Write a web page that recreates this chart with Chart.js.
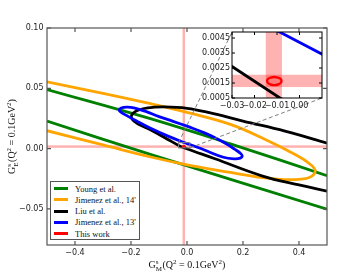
<!DOCTYPE html>
<html>
<head>
<meta charset="utf-8">
<script src="https://cdn.jsdelivr.net/npm/chart.js@4.4.1/dist/chart.umd.min.js"></script>
<style>
  html, body { margin: 0; padding: 0; background: #fff; }
  #wrap { position: relative; width: 364px; height: 274px; overflow: hidden; }
  #main { position: absolute; left: 0; top: 0; }
  #inset { position: absolute; left: 188px; top: 20px; }
  #legend { position: absolute; left: 50px; top: 181px; width: 90px; height: 59px; box-sizing: border-box;
            border: 1px solid #555; background: #fff; font: 8.5px "Liberation Serif", serif; color: #111; }
  .lg-row { position: absolute; left: 0; height: 10px; line-height: 10px; white-space: nowrap; }
  .lg-line { position: absolute; left: 3px; top: 3.5px; width: 14px; height: 3px; }
  .lg-txt { position: absolute; left: 24px; top: 0; }
</style>
</head>
<body>
<div id="wrap">
  <canvas id="main" width="364" height="274"></canvas>
  <canvas id="inset" width="142" height="95"></canvas>
  <div id="legend"></div>
</div>
<script>
// axes
const xTickVals = [-0.4, -0.2, 0, 0.2, 0.4];
const xTickLabels = ['\u22120.4', '\u22120.2', '0.0', '0.2', '0.4'];
const yTickVals = [-0.05, 0, 0.05, 0.1];
const yTickLabels = ['\u22120.05', '0.00', '0.05', '0.10'];
const insetXRange = [-0.03, 0.01];
const insetYRange = [0.0005, 0.0049];
const insetXTickVals = [-0.03, -0.02, -0.01, 0];
const insetXTickLabels = ['\u22120.03', '\u22120.02', '\u22120.01', '0.00'];
const insetYTickVals = [0.0005, 0.0015, 0.0025, 0.0035, 0.0045];
const insetYTickLabels = ['0.0005', '0.0015', '0.0025', '0.0035', '0.0045'];

// legend
const seriesNames = ['Young et al.', "Jimenez et al., 14'", 'Liu et al.', "Jimenez et al., 13'", 'This work'];
const seriesColors = ['#008000', '#ffa500', '#000000', '#0000ff', '#ff0000'];

// Young et al. band (two edges)
const youngUpperX = [-0.5, -0.131, 0.155, 0.5];
const youngUpperY = [0.049, 0.0248, 0.0039, -0.0225];
const youngLowerX = [-0.5, -0.131, 0.5];
const youngLowerY = [0.0228, -0.0048, -0.0503];

// Jimenez et al. 14' contour (left part outside the axes)
const jim14X = [-0.5, -0.3, -0.13, 0.0, 0.155, 0.274, 0.393, 0.44, 0.458, 0.44, 0.40, 0.333, 0.27, 0.155, 0.0, -0.13, -0.3, -0.5];
const jim14Y = [0.0554, 0.0458, 0.0372, 0.0300, 0.0200, 0.0081, -0.0058, -0.0130, -0.0185, -0.0237, -0.0255, -0.0256, -0.0242, -0.0198, -0.0135, -0.0070, 0.0030, 0.0148];

// Liu et al. contour (right part outside the axes)
const liuX = [0.5, 0.35, 0.2, 0.08, 0.0, -0.08, -0.14, -0.175, -0.193, -0.199, -0.194, -0.18, -0.16, -0.131, -0.07, -0.03, -0.0087, 0.1, 0.27, 0.4, 0.5];
const liuY = [0.0045, 0.0145, 0.0228, 0.0298, 0.0334, 0.0345, 0.0338, 0.0318, 0.0293, 0.0265, 0.0238, 0.0212, 0.0187, 0.0156, 0.0078, 0.0026, 0.0005, -0.0085, -0.0228, -0.0302, -0.0353];

// Jimenez et al. 13' contour
const jim13X = [0.0, 0.06, 0.1, 0.14, 0.17, 0.19, 0.1975, 0.19, 0.17, 0.13, 0.06, 0.0103, -0.0101, -0.07, -0.13, -0.18, -0.215, -0.236, -0.242, -0.235, -0.215, -0.19, -0.15, -0.1, -0.05, 0.0];
const jim13Y = [0.0186, 0.0132, 0.0090, 0.0040, -0.0005, -0.0038, -0.0062, -0.0079, -0.0085, -0.0072, -0.0010, 0.0034, 0.0050, 0.0105, 0.0168, 0.0228, 0.0273, 0.0302, 0.0320, 0.0336, 0.0343, 0.0338, 0.0310, 0.0265, 0.0226, 0.0186];

// This work contour and its bands
const thisX = [-0.0112, -0.0096, -0.0084, -0.0080, -0.0084, -0.0096, -0.0112, -0.0128, -0.0140, -0.0144, -0.0140, -0.0128, -0.0112, -0.0096];
const thisY = [0.00190, 0.00186, 0.00177, 0.00163, 0.00150, 0.00140, 0.00136, 0.00140, 0.00150, 0.00163, 0.00177, 0.00186, 0.00190, 0.00186];
const bandX = [-0.015, -0.0078];
const bandY = [0.00123, 0.00205];

const series = [
  { xs: youngUpperX, ys: youngUpperY, c: 0 },
  { xs: youngLowerX, ys: youngLowerY, c: 0 },
  { xs: jim14X, ys: jim14Y, c: 1 },
  { xs: liuX, ys: liuY, c: 2 },
  { xs: jim13X, ys: jim13Y, c: 3 },
  { xs: thisX, ys: thisY, c: 4, smooth: true }
];

function buildDatasets(lw, inset) {
  return series.map((s, i) => ({
    data: s.xs.map((x, k) => ({ x: x, y: s.ys[k] })),
    borderColor: seriesColors[s.c],
    borderWidth: s.c === 4 ? lw * 0.85 : lw,
    pointRadius: 0,
    fill: false,
    tension: inset ? (s.smooth ? 0.4 : 0) : 0.4,
    clip: 0,
    order: series.length - i
  }));
}

const bandPlugin = {
  id: 'bands',
  beforeDatasetsDraw(chart, args, opts) {
    const { ctx, chartArea: a, scales: { x, y } } = chart;
    ctx.save();
    if (opts.bg) { ctx.fillStyle = '#fff'; ctx.fillRect(a.left, a.top, a.right - a.left, a.bottom - a.top); }
    ctx.beginPath();
    ctx.rect(a.left, a.top, a.right - a.left, a.bottom - a.top);
    ctx.clip();
    ctx.fillStyle = 'rgba(255,0,0,0.3)';
    let x0 = x.getPixelForValue(bandX[0]), x1 = x.getPixelForValue(bandX[1]);
    let w = Math.max(x1 - x0, opts.minW || 0);
    ctx.fillRect((x0 + x1) / 2 - w / 2, a.top, w, a.bottom - a.top);
    let y0 = y.getPixelForValue(bandY[0]), y1 = y.getPixelForValue(bandY[1]);
    let h = Math.max(y0 - y1, opts.minW || 0);
    ctx.fillRect(a.left, (y0 + y1) / 2 - h / 2, a.right - a.left, h);
    ctx.restore();
  }
};

const framePlugin = {
  id: 'frame',
  afterDatasetsDraw(chart, args, opts) {
    const { ctx, chartArea: a, scales: { x, y } } = chart;
    ctx.save();
    ctx.strokeStyle = opts.color;
    ctx.lineWidth = opts.width;
    ctx.strokeRect(a.left, a.top, a.right - a.left, a.bottom - a.top);
    ctx.beginPath();
    x.ticks.forEach(t => {
      const px = x.getPixelForValue(t.value);
      ctx.moveTo(px, a.bottom); ctx.lineTo(px, a.bottom - opts.len);
      ctx.moveTo(px, a.top); ctx.lineTo(px, a.top + opts.len);
    });
    y.ticks.forEach(t => {
      const py = y.getPixelForValue(t.value);
      ctx.moveTo(a.left, py); ctx.lineTo(a.left + opts.len, py);
      ctx.moveTo(a.right, py); ctx.lineTo(a.right - opts.len, py);
    });
    ctx.stroke();
    ctx.restore();
  }
};

function drawMathTitle(ctx, cx, cy, sub) {
  const big = '10px "Liberation Serif"', small = '7px "Liberation Serif"';
  const seq = [
    { t: 'G', f: big, dy: 0 },
    { t: 's', f: small, dy: -4, sub: sub },
    { t: '(Q', f: big, dy: 0 },
    { t: '2', f: small, dy: -4 },
    { t: ' = 0.1GeV', f: big, dy: 0 },
    { t: '2', f: small, dy: -4 },
    { t: ')', f: big, dy: 0 }
  ];
  let total = 0;
  seq.forEach(p => {
    ctx.font = p.f;
    p.w = ctx.measureText(p.t).width;
    if (p.sub) p.w = Math.max(p.w, ctx.measureText(p.sub).width) + 0.5;
    total += p.w;
  });
  let px = cx - total / 2;
  ctx.fillStyle = '#111';
  ctx.textBaseline = 'alphabetic';
  ctx.textAlign = 'left';
  seq.forEach(p => {
    ctx.font = p.f;
    ctx.fillText(p.t, px, cy + p.dy);
    if (p.sub) ctx.fillText(p.sub, px, cy + 2.5);
    px += p.w;
  });
}

const titlePlugin = {
  id: 'titles',
  afterDraw(chart) {
    const { ctx, chartArea: a } = chart;
    ctx.save();
    drawMathTitle(ctx, (a.left + a.right) / 2, 268, 'M');
    ctx.translate(15, (a.top + a.bottom) / 2);
    ctx.rotate(-Math.PI / 2);
    drawMathTitle(ctx, 0, 0, 'E');
    ctx.restore();
  }
};

let insetChart = null;
const connectorPlugin = {
  id: 'connector',
  afterDatasetsDraw(chart) {
    if (!insetChart) return;
    const { ctx, scales: { x, y } } = chart;
    const ia = insetChart.chartArea, cv = insetChart.canvas;
    const ox = cv.offsetLeft, oy = cv.offsetTop;
    const rx0 = x.getPixelForValue(insetXRange[0]), rx1 = x.getPixelForValue(insetXRange[1]);
    const ry0 = y.getPixelForValue(insetYRange[0]), ry1 = y.getPixelForValue(insetYRange[1]);
    ctx.save();
    ctx.strokeStyle = '#808080';
    ctx.lineWidth = 1;
    ctx.strokeRect(rx0, ry1, rx1 - rx0, ry0 - ry1);
    ctx.setLineDash([4, 2.5]);
    ctx.beginPath();
    ctx.moveTo(rx0, ry1); ctx.lineTo(ox + ia.left, oy + ia.top);
    ctx.moveTo(rx1, ry0); ctx.lineTo(ox + ia.right, oy + ia.bottom);
    ctx.stroke();
    ctx.restore();
  }
};

const tickFont = { family: 'DejaVu Sans', size: 8 };

insetChart = new Chart(document.getElementById('inset'), {
  type: 'line',
  data: { datasets: buildDatasets(2.8, true) },
  options: {
    responsive: false, animation: false, events: [],
    layout: { padding: { left: 0, top: 12, right: 8, bottom: 0 } },
    plugins: { legend: { display: false }, tooltip: { enabled: false },
               bands: { bg: true, minW: 0 }, frame: { color: '#000', width: 1, len: 3 } },
    scales: {
      x: { type: 'linear', min: insetXRange[0], max: insetXRange[1],
           afterBuildTicks: s => { s.ticks = insetXTickVals.map(v => ({ value: v })); },
           afterFit: s => { s.height = 17; },
           grid: { display: false, drawTicks: false }, border: { display: false },
           ticks: { padding: 3, font: tickFont, color: '#222', maxRotation: 0, autoSkip: false,
                    callback: v => insetXTickLabels[insetXTickVals.indexOf(v)] } },
      y: { type: 'linear', min: insetYRange[0], max: insetYRange[1],
           afterBuildTicks: s => { s.ticks = insetYTickVals.map(v => ({ value: v })); },
           afterFit: s => { s.width = 44; },
           grid: { display: false, drawTicks: false }, border: { display: false },
           ticks: { padding: 2, font: tickFont, color: '#222', autoSkip: false,
                    callback: v => insetYTickLabels[insetYTickVals.indexOf(v)] } }
    }
  },
  plugins: [bandPlugin, framePlugin]
});

new Chart(document.getElementById('main'), {
  type: 'line',
  data: { datasets: buildDatasets(2.8, false) },
  options: {
    responsive: false, animation: false, events: [],
    layout: { padding: { left: 0, top: 28, right: 37, bottom: 0 } },
    plugins: { legend: { display: false }, tooltip: { enabled: false },
               bands: { bg: false, minW: 2.5 }, frame: { color: '#555', width: 1.2, len: 4 } },
    scales: {
      x: { type: 'linear', min: -0.5, max: 0.5,
           afterBuildTicks: s => { s.ticks = xTickVals.map(v => ({ value: v })); },
           afterFit: s => { s.height = 29; },
           grid: { display: false, drawTicks: false }, border: { display: false },
           ticks: { padding: 3, font: tickFont, color: '#222', maxRotation: 0, autoSkip: false,
                    callback: v => xTickLabels[xTickVals.indexOf(v)] } },
      y: { type: 'linear', min: -0.08, max: 0.1,
           afterBuildTicks: s => { s.ticks = yTickVals.map(v => ({ value: v })); },
           afterFit: s => { s.width = 47; },
           grid: { display: false, drawTicks: false }, border: { display: false },
           ticks: { padding: 3.5, font: tickFont, color: '#222', autoSkip: false,
                    callback: v => yTickLabels[yTickVals.indexOf(v)] } }
    }
  },
  plugins: [bandPlugin, framePlugin, titlePlugin, connectorPlugin]
});

// legend
const lg = document.getElementById('legend');
seriesNames.forEach((name, i) => {
  const row = document.createElement('div');
  row.className = 'lg-row';
  row.style.top = (1.7 + 11.25 * i) + 'px';
  row.innerHTML = '<div class="lg-line" style="background:' + seriesColors[i] + '"></div><div class="lg-txt"></div>';
  row.querySelector('.lg-txt').textContent = name;
  lg.appendChild(row);
});
</script>
</body>
</html>
